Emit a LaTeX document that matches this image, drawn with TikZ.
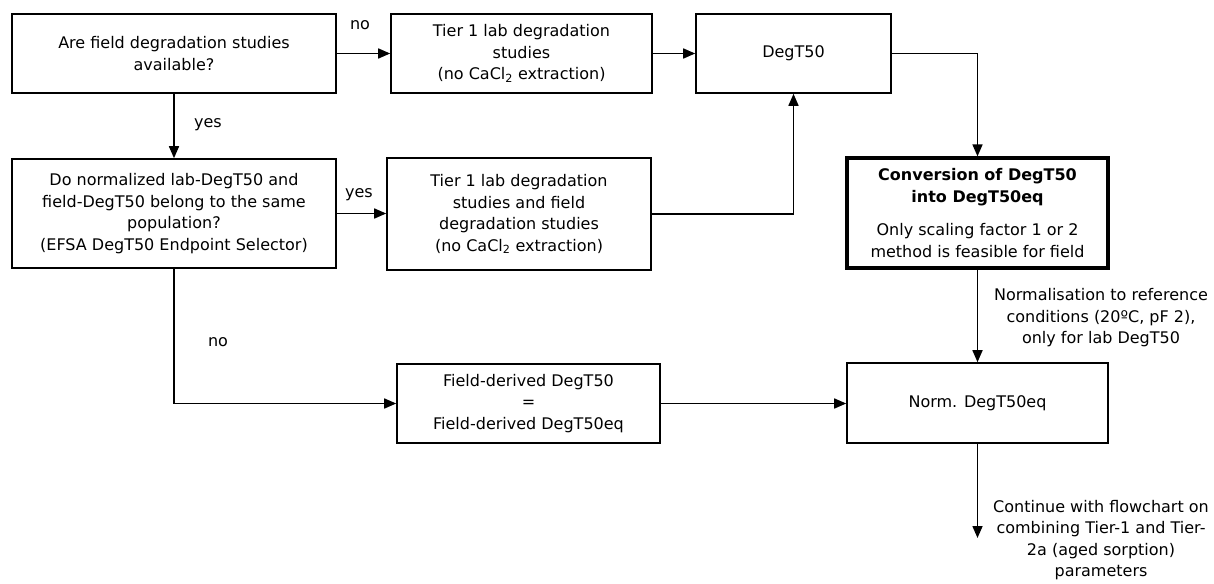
\documentclass[tikz,border=0pt]{standalone}
\usepackage{fontspec}
\setmainfont{DejaVu Sans}
\usetikzlibrary{arrows.meta}

\begin{document}
\begin{tikzpicture}[x=1pt,y=-1pt,
  font=\fontsize{16}{21.5}\selectfont,
  flowbox/.style={draw=black, line width=1.6pt, align=center, inner sep=2pt},
  keybox/.style={flowbox, line width=3.2pt},
  flow/.style={draw=black, line width=1.6pt, -{Triangle[length=12pt,width=10pt]}},
  lbl/.style={align=center, inner sep=0pt}]
\useasboundingbox (0,0) rectangle (1214,583);

% decision and process boxes
\node[flowbox, minimum width=324pt, minimum height=79pt] (avail) at (174,53.5)
  {Are field degradation studies\\available?};
\node[flowbox, minimum width=261pt, minimum height=79pt] (tierlab) at (521.5,53.5)
  {Tier 1 lab degradation\\studies\\(no CaCl\textsubscript{2} extraction)};
\node[flowbox, minimum width=195pt, minimum height=79pt] (degt) at (793.5,53.5)
  {DegT50};
\node[keybox, minimum width=261pt, minimum height=110pt] (conv) at (977.5,213)
  {\textbf{Conversion of DegT50}\\\textbf{into DegT50eq}\\[12pt]Only scaling factor 1 or 2\\method is feasible for field};
\node[flowbox, minimum width=324pt, minimum height=109pt] (same) at (174,213.5)
  {Do normalized lab-DegT50 and\\field-DegT50 belong to the same\\population?\\(EFSA DegT50 Endpoint Selector)};
\node[flowbox, minimum width=264pt, minimum height=112pt] (tierboth) at (519,214)
  {Tier 1 lab degradation\\studies and field\\degradation studies\\(no CaCl\textsubscript{2} extraction)};
\node[flowbox, minimum width=263pt, minimum height=79pt] (fieldeq) at (528.5,403.5)
  {Field-derived DegT50\\=\\Field-derived DegT50eq};
\node[flowbox, minimum width=261pt, minimum height=80pt] (norm) at (977.5,403)
  {Norm. DegT50eq};
\coordinate (next) at (977.5,538);

% connectors
\draw[flow] (avail.east) -- (tierlab.west);
\draw[flow] (tierlab.east) -- (degt.west);
\draw[flow] (degt.east) -| (conv.north);
\draw[flow] (avail.south) -- (same.north);
\draw[flow] (same.east) -- (same.east -| tierboth.west);
\draw[flow] (tierboth.east) -| (degt.south);
\draw[flow] (same.south) |- (fieldeq.west);
\draw[flow] (fieldeq.east) -- (fieldeq.east -| norm.west);
\draw[flow] (conv.south) -- (norm.north);
\draw[flow] (norm.south) -- (next);

% connector labels
\node[lbl] (noA) at (360,25) {no};
\node[lbl] (yesA) at (208,125) {yes};
\node[lbl] (yesB) at (359,195) {yes};
\node[lbl] (noB) at (218,342) {no};
\node[lbl] (normlbl) at (1101,318)
  {Normalisation to reference\\conditions (20ºC, pF 2),\\only for lab DegT50};
\node[lbl] (contlbl) at (1101,540)
  {Continue with flowchart on\\combining Tier-1 and Tier-\\2a (aged sorption)\\parameters};
\end{tikzpicture}
\end{document}
